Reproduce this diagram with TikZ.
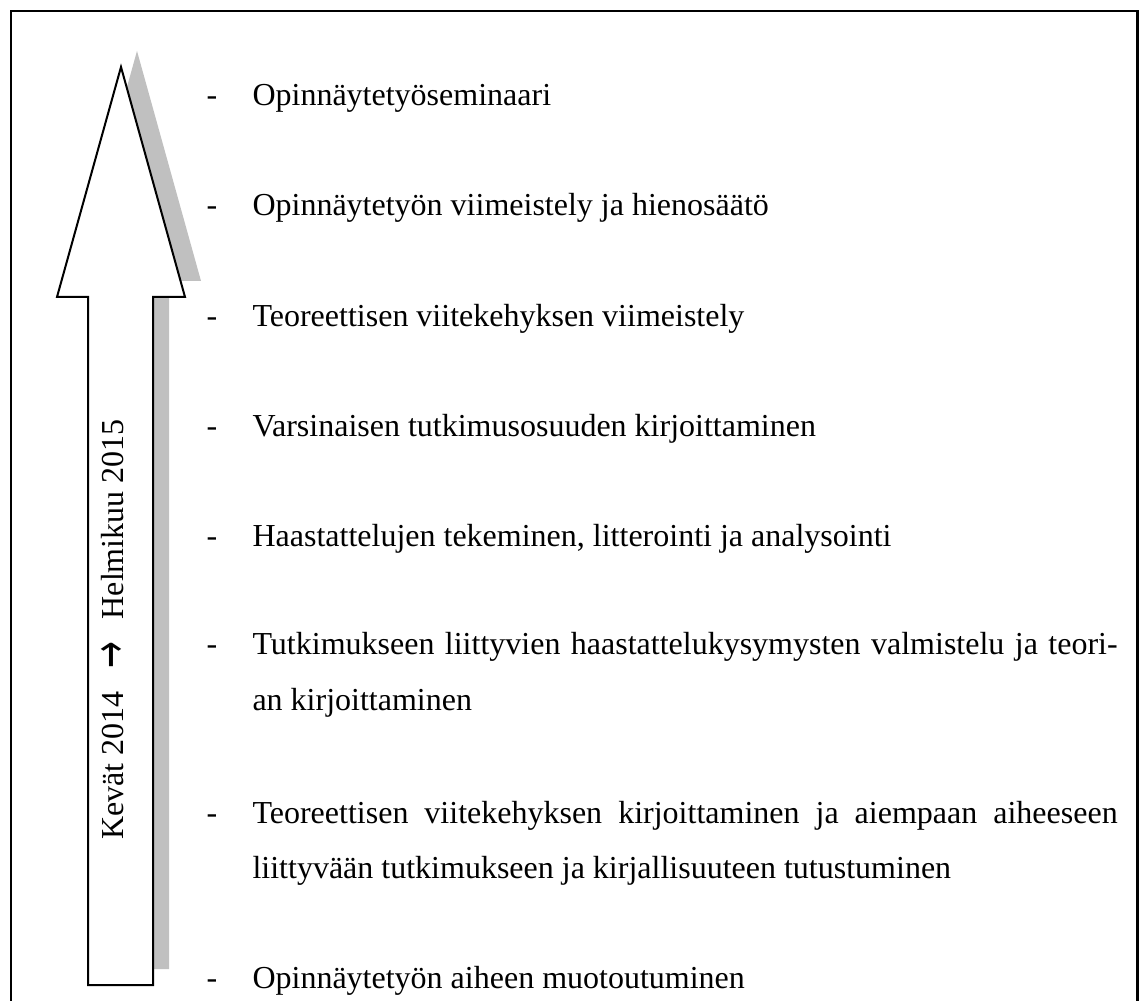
\documentclass[tikz,border=0pt]{standalone}
\usepackage{fontspec}
\usepackage{graphicx}
\setmainfont{Liberation Serif}
\newfontfamily\arrowfont{DejaVu Sans}
\begin{document}
\begin{tikzpicture}[x=0.375pt,y=-0.375pt,
  item/.style={anchor=base west,inner sep=0pt,font=\fontsize{12pt}{14pt}\selectfont},
  dashmark/.style={anchor=base west,inner sep=0pt,font=\fontsize{12pt}{14pt}\selectfont},
  frameline/.style={line width=1pt,draw=black},
  arrowbody/.style={draw=black,fill=white,line width=0.75pt,line join=miter},
  arrowshadow/.style={fill=shadowgray,draw=none}]
\definecolor{shadowgray}{RGB}{192,192,192}
\useasboundingbox (0,0) rectangle (1139,1001);
\fill[white] (0,0) rectangle (1139,1001);
% frame
\draw[frameline] (11,1010) -- (11,11) -- (1137.5,11) -- (1137.5,1010);
% arrow shadow
\fill[arrowshadow] (137,51) -- (201,281) -- (169,281) -- (169,969) -- (104,969) -- (104,281) -- (73,281) -- cycle;
% arrow
\draw[arrowbody] (121,67) -- (185,297) -- (153,297) -- (153,985) -- (88,985) -- (88,297) -- (57,297) -- cycle;
\node[rotate=90,anchor=base,inner sep=0pt,font=\fontsize{12pt}{14pt}\selectfont] (period) at (123,629.5)
  {Kevät 2014\hspace{8.5pt}\raisebox{-1.3pt}{\scalebox{1}[1.5]{\arrowfont →}}\hspace{8.5pt}Helmikuu 2015};
% items
\node[dashmark] (d1) at (206,106) {-};
\node[item] (t1) at (252,106) {Opinnäytetyöseminaari};
\node[dashmark] (d2) at (206,216) {-};
\node[item] (t2) at (252,216) {Opinnäytetyön viimeistely ja hienosäätö};
\node[dashmark] (d3) at (206,327) {-};
\node[item] (t3) at (252,327) {Teoreettisen viitekehyksen viimeistely};
\node[dashmark] (d4) at (206,437) {-};
\node[item] (t4) at (252,437) {Varsinaisen tutkimusosuuden kirjoittaminen};
\node[dashmark] (d5) at (206,547) {-};
\node[item] (t5) at (252,547) {Haastattelujen tekeminen, litterointi ja analysointi};
\node[dashmark] (d6) at (206,655) {-};
\node[item] (t6a) at (252,655) {\makebox[324.4pt][s]{Tutkimukseen liittyvien haastattelukysymysten valmistelu ja teori-}};
\node[item] (t6b) at (252,710) {an kirjoittaminen};
\node[dashmark] (d7) at (206,823) {-};
\node[item] (t7a) at (252,823) {\makebox[324.4pt][s]{Teoreettisen viitekehyksen kirjoittaminen ja aiempaan aiheeseen}};
\node[item] (t7b) at (252,878) {liittyvään tutkimukseen ja kirjallisuuteen tutustuminen};
\node[dashmark] (d8) at (206,988) {-};
\node[item] (t8) at (252,988) {Opinnäytetyön aiheen muotoutuminen};
\end{tikzpicture}
\end{document}
